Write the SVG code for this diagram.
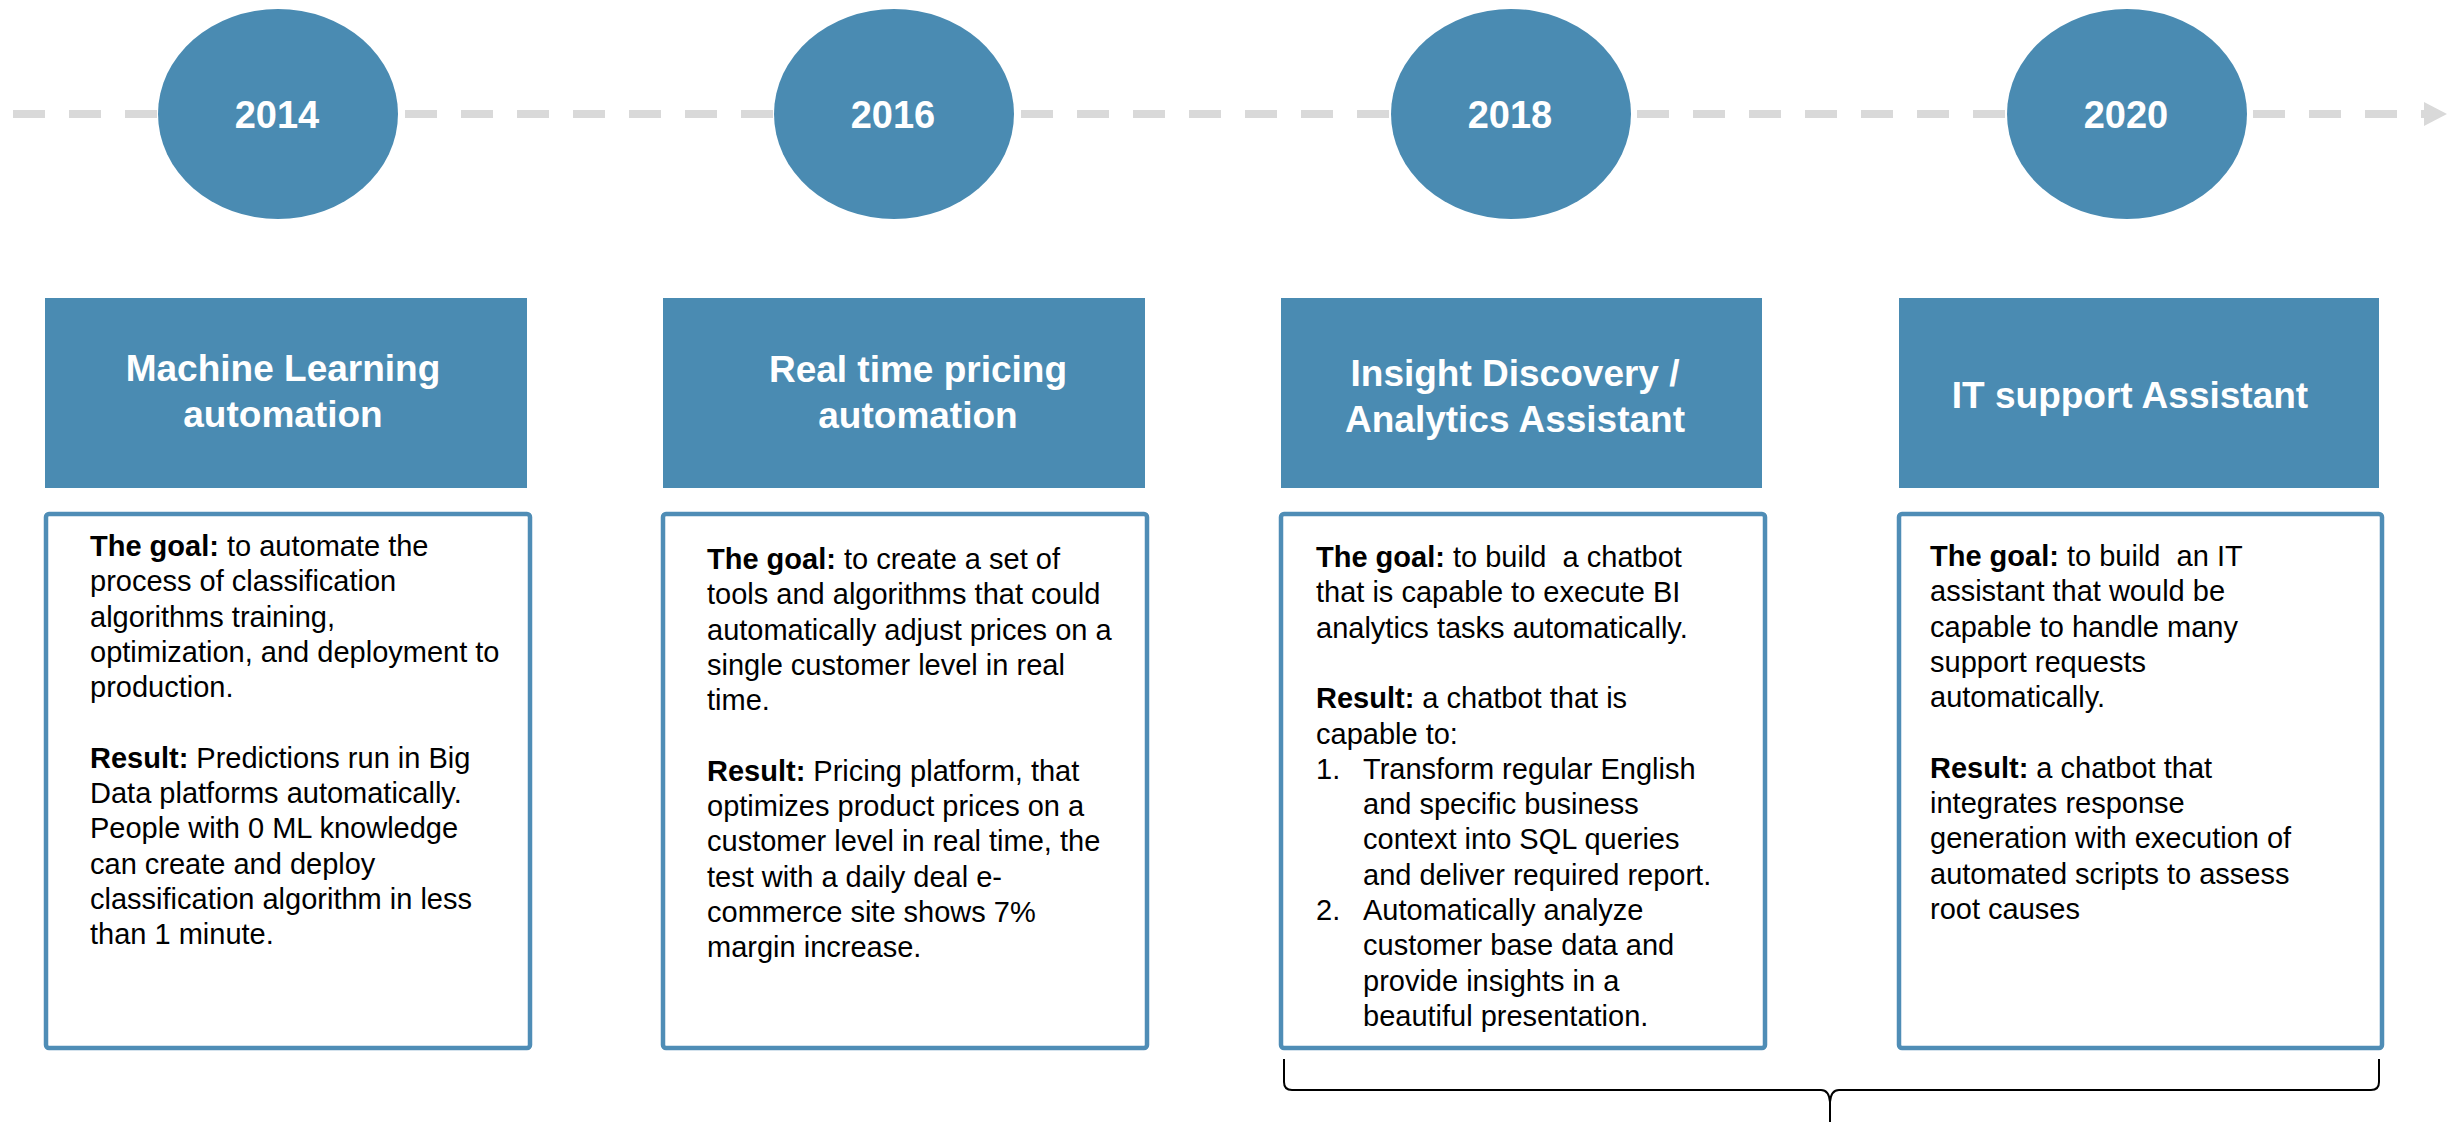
<svg xmlns="http://www.w3.org/2000/svg" width="2453" height="1122" viewBox="0 0 2453 1122">
<style>
.title{fill:#4a8bb2}
.card{fill:#ffffff;stroke:#4f8db6;stroke-width:4.5}
.yr{fill:#4a8bb2}
.yt{font-family:"Liberation Sans",Arial,sans-serif;font-weight:bold;font-size:38px;fill:#ffffff;text-anchor:middle}
.tt{font-family:"Liberation Sans",Arial,sans-serif;font-weight:bold;font-size:37px;fill:#ffffff;text-anchor:middle}
.bt{font-family:"Liberation Sans",Arial,sans-serif;font-size:29px;fill:#000000}
.b{font-weight:bold}
.tl{stroke:#d9d9d9;stroke-width:8;stroke-dasharray:32 24;fill:none}
.br{stroke:#000000;stroke-width:2;fill:none}
</style>
<rect width="2453" height="1122" fill="#ffffff"/>
<g id="connectors">
<line class="tl" x1="13" y1="114" x2="2424" y2="114"/>
<polygon points="2424,102 2447,114 2424,126" fill="#d9d9d9"/>
<path class="br" d="M1284,1059 L1284,1082 Q1284,1090 1292,1090 L1821,1090 Q1829,1090 1830,1102 L1830,1122 M1830,1102 Q1831,1090 1839,1090 L2371,1090 Q2379,1090 2379,1082 L2379,1059"/>
</g>
<g id="year-2014"><ellipse class="yr" cx="278" cy="114" rx="120" ry="105"/><text class="yt" x="277" y="128">2014</text></g>
<g id="year-2016"><ellipse class="yr" cx="894" cy="114" rx="120" ry="105"/><text class="yt" x="893" y="128">2016</text></g>
<g id="year-2018"><ellipse class="yr" cx="1511" cy="114" rx="120" ry="105"/><text class="yt" x="1510" y="128">2018</text></g>
<g id="year-2020"><ellipse class="yr" cx="2127" cy="114" rx="120" ry="105"/><text class="yt" x="2126" y="128">2020</text></g>

<g id="title-ml"><rect class="title" x="45" y="298" width="482" height="190"/>
<text class="tt" x="283" y="381">Machine Learning</text><text class="tt" x="283" y="427">automation</text></g>
<g id="title-pricing"><rect class="title" x="663" y="298" width="482" height="190"/>
<text class="tt" x="918" y="382">Real time pricing</text><text class="tt" x="918" y="428">automation</text></g>
<g id="title-insight"><rect class="title" x="1281" y="298" width="481" height="190"/>
<text class="tt" x="1515" y="386">Insight Discovery /</text><text class="tt" x="1515" y="432">Analytics Assistant</text></g>
<g id="title-it"><rect class="title" x="1899" y="298" width="480" height="190"/>
<text class="tt" x="2130" y="408">IT support Assistant</text></g>

<g id="card-ml"><rect class="card" x="46" y="514" width="484" height="534" rx="3"/>
<text class="bt" x="90" y="556"><tspan class="b">The goal:</tspan> to automate the</text>
<text class="bt" x="90" y="591.3">process of classification</text>
<text class="bt" x="90" y="626.6">algorithms training,</text>
<text class="bt" x="90" y="661.9">optimization, and deployment to</text>
<text class="bt" x="90" y="697.2">production.</text>
<text class="bt" x="90" y="767.8"><tspan class="b">Result:</tspan> Predictions run in Big</text>
<text class="bt" x="90" y="803.1">Data platforms automatically.</text>
<text class="bt" x="90" y="838.4">People with 0 ML knowledge</text>
<text class="bt" x="90" y="873.7">can create and deploy</text>
<text class="bt" x="90" y="909">classification algorithm in less</text>
<text class="bt" x="90" y="944.3">than 1 minute.</text>
</g>
<g id="card-pricing"><rect class="card" x="663" y="514" width="484" height="534" rx="3"/>
<text class="bt" x="707" y="569"><tspan class="b">The goal:</tspan> to create a set of</text>
<text class="bt" x="707" y="604.3">tools and algorithms that could</text>
<text class="bt" x="707" y="639.6">automatically adjust prices on a</text>
<text class="bt" x="707" y="674.9">single customer level in real</text>
<text class="bt" x="707" y="710.2">time.</text>
<text class="bt" x="707" y="780.8"><tspan class="b">Result:</tspan> Pricing platform, that</text>
<text class="bt" x="707" y="816.1">optimizes product prices on a</text>
<text class="bt" x="707" y="851.4">customer level in real time, the</text>
<text class="bt" x="707" y="886.7">test with a daily deal e-</text>
<text class="bt" x="707" y="922">commerce site shows 7%</text>
<text class="bt" x="707" y="957.3">margin increase.</text>
</g>
<g id="card-insight"><rect class="card" x="1281" y="514" width="484" height="534" rx="3"/>
<text class="bt" x="1316" y="567" xml:space="preserve"><tspan class="b">The goal:</tspan> to build  a chatbot</text>
<text class="bt" x="1316" y="602.3">that is capable to execute BI</text>
<text class="bt" x="1316" y="637.6">analytics tasks automatically.</text>
<text class="bt" x="1316" y="708.2"><tspan class="b">Result:</tspan> a chatbot that is</text>
<text class="bt" x="1316" y="743.5">capable to:</text>
<text class="bt" x="1316" y="778.8">1.</text><text class="bt" x="1363" y="778.8">Transform regular English</text>
<text class="bt" x="1363" y="814.1">and specific business</text>
<text class="bt" x="1363" y="849.4">context into SQL queries</text>
<text class="bt" x="1363" y="884.7">and deliver required report.</text>
<text class="bt" x="1316" y="920">2.</text><text class="bt" x="1363" y="920">Automatically analyze</text>
<text class="bt" x="1363" y="955.3">customer base data and</text>
<text class="bt" x="1363" y="990.6">provide insights in a</text>
<text class="bt" x="1363" y="1025.9">beautiful presentation.</text>
</g>
<g id="card-it"><rect class="card" x="1899" y="514" width="483" height="534" rx="3"/>
<text class="bt" x="1930" y="566" xml:space="preserve"><tspan class="b">The goal:</tspan> to build  an IT</text>
<text class="bt" x="1930" y="601.3">assistant that would be</text>
<text class="bt" x="1930" y="636.6">capable to handle many</text>
<text class="bt" x="1930" y="671.9">support requests</text>
<text class="bt" x="1930" y="707.2">automatically.</text>
<text class="bt" x="1930" y="777.8"><tspan class="b">Result:</tspan> a chatbot that</text>
<text class="bt" x="1930" y="813.1">integrates response</text>
<text class="bt" x="1930" y="848.4">generation with execution of</text>
<text class="bt" x="1930" y="883.7">automated scripts to assess</text>
<text class="bt" x="1930" y="919">root causes</text>
</g>
</svg>
